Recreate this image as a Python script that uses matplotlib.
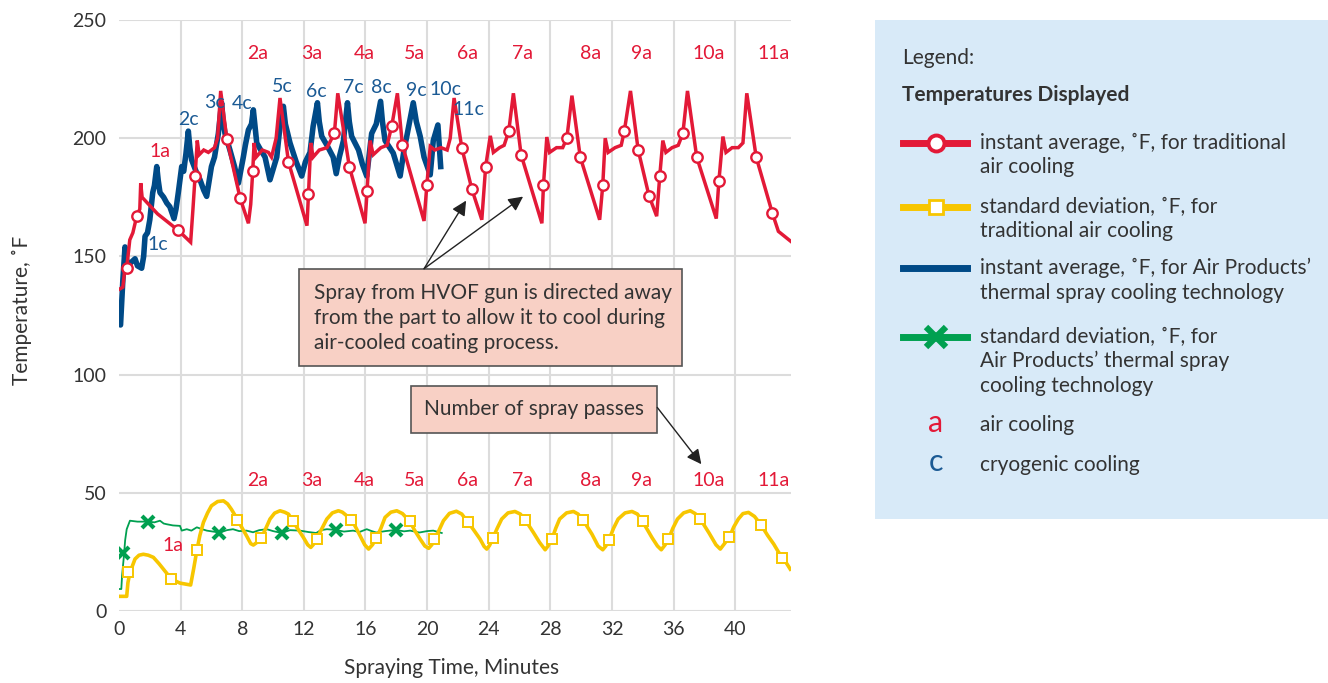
import matplotlib
matplotlib.use("Agg")
import matplotlib.pyplot as plt
from matplotlib.patches import Rectangle

plt.rcParams['font.family'] = ['Lato', 'DejaVu Sans']

# ---------------- data ----------------
red_t = [0.0, 0.25, 0.35, 0.5, 0.7, 0.9, 1.15, 1.35, 1.41, 1.5, 2.5, 3.85, 4.65, 4.8, 4.94, 5.08, 5.2, 5.5, 5.8, 6.2,
         6.4, 6.6, 7.0, 7.86, 8.4, 8.55, 8.68, 8.77, 8.9, 9.3, 9.7, 9.9, 10.2, 10.45, 11.0, 12.2, 12.3, 12.45, 12.6,
         13.0, 13.5, 13.98, 14.2, 14.95, 15.97, 16.1, 16.3, 16.5, 17.0, 17.4, 17.7, 18.07, 18.4, 19.8, 19.98, 20.2,
         20.5, 20.9, 21.3, 21.5, 21.75, 22.25, 22.9, 23.55, 23.8, 24.1, 24.3, 24.7, 25.0, 25.3, 25.6, 26.1, 27.45,
         27.55, 27.77, 27.95, 28.4, 28.8, 29.07, 29.4, 29.94, 31.2, 31.4, 31.56, 31.75, 32.2, 32.6, 32.8, 33.2, 33.7,
         34.4, 34.9, 35.1, 35.3, 35.5, 35.9, 36.3, 36.6, 36.9, 37.5, 38.77, 38.94, 39.2, 39.4, 39.8, 40.2, 40.5,
         40.75, 41.36, 42.4, 42.8, 43.6]
red_v = [136, 137, 143, 145, 157, 160, 167, 170, 181, 175, 168, 161, 156, 170, 184, 199, 193, 195, 194, 196,
         200, 220, 199.6, 174.7, 164, 172, 186, 198, 192, 195, 194, 192, 200, 217, 190, 163, 176.5, 198, 192,
         195, 196, 202, 219, 188, 164, 177.5, 199, 193, 196, 197, 205, 219, 197, 165, 180, 196.5,
         195, 196, 195, 200, 217, 196, 178.5, 165.5, 188, 201, 194, 196, 197, 203, 219, 193, 164,
         180, 200.5, 194, 196, 196, 200, 218, 192, 165.5, 180, 200, 194, 196, 197, 203, 220, 195,
         175.7, 167, 184, 199, 194, 196, 197, 202, 220, 192, 166, 182, 200.7, 194, 196, 196, 198,
         219, 192, 168.5, 160.6, 156.4]
red_mark_t = [0.5, 1.15, 3.85, 4.94, 7.0, 7.86, 8.68, 11.0, 12.3, 13.98, 14.95, 16.1, 17.7, 18.4, 19.98, 22.25, 22.9,
              23.8, 25.3, 26.1, 27.55, 29.07, 29.94, 31.4, 32.8, 33.7, 34.4, 35.1, 36.6, 37.5, 38.94, 41.36, 42.4]
red_mark_v = [145, 167, 161, 184, 199.6, 174.7, 186, 190, 176.5, 202, 188, 177.5, 205, 197, 180, 196, 178.5,
              188, 203, 193, 180, 200, 192, 180, 203, 195, 175.7, 184, 202, 192, 182, 192, 168.5]

blue_t = [0.0, 0.1, 0.25, 0.39, 0.5, 0.71, 1.04, 1.2, 1.47, 1.6, 1.69, 1.85, 2.0, 2.19, 2.3, 2.45, 2.55, 2.66, 2.9,
          3.1, 3.3, 3.57, 3.7, 3.85, 4.07, 4.2, 4.35, 4.5, 4.6, 4.71, 5.0, 5.26, 5.5, 5.69, 6.0, 6.2, 6.45, 6.66,
          6.75, 6.88, 7.2, 7.5, 7.75, 8.07, 8.2, 8.4, 8.6, 8.72, 8.94, 9.2, 9.48, 9.8, 10.24, 10.45, 10.67, 10.8,
          11.1, 11.5, 11.86, 12.1, 12.4, 12.6, 12.88, 13.0, 13.16, 13.5, 13.9, 14.1, 14.3, 14.57, 14.83, 14.95,
          15.1, 15.55, 15.8, 16.08, 16.4, 16.7, 16.98, 17.1, 17.27, 17.8, 18.25, 18.5, 18.68, 19.1, 19.3, 19.55,
          19.8, 20.2, 20.4, 20.7, 20.88]
blue_v = [122, 121, 140, 154, 148, 147, 149, 146, 145, 150, 158.5, 160, 165.5, 177, 180, 188, 182, 177, 175,
          172.6, 171, 166, 170, 177, 188, 186, 193.7, 203, 196, 190.9, 186, 182.4, 178, 175.4, 188, 192, 202, 215,
          208, 202, 195, 188, 181, 192, 197, 203.5, 206, 212, 198, 195, 192, 182.4, 192, 205, 213.5, 206,
          198, 190, 184, 190, 194, 205, 215, 207, 200.8, 197, 192, 185, 192, 199, 215, 207,
          200.8, 195, 189, 184, 202, 206, 215.6, 207, 199, 193.7, 184, 195, 200.8, 215, 207, 200.8,
          192, 184.5, 199, 205.6, 188]

yel_t = [0.0, 0.5, 0.58, 0.71, 1.04, 1.3, 1.58, 1.9, 2.23, 2.6, 2.88, 3.4, 3.96, 4.65, 4.85, 5.05, 5.25, 5.48, 5.75,
         6.0, 6.4, 6.78, 7.05, 7.3, 7.7, 8.0, 8.28, 8.55, 8.72, 8.95, 9.22, 9.5, 9.8, 10.1, 10.45, 10.75, 11.0,
         11.32, 11.65, 11.97, 12.25, 12.45, 12.6, 12.8, 13.1, 13.49, 13.85, 14.24, 14.5, 14.78, 15.1, 15.4, 15.65,
         15.95, 16.2, 16.45, 16.7, 17.0, 17.27, 17.65, 18.03, 18.4, 18.9, 19.2, 19.55, 19.85, 20.1, 20.3, 20.5,
         20.8, 21.06, 21.45, 21.9, 22.25, 22.65, 23.0, 23.44, 23.7, 23.87, 24.05, 24.26, 24.55, 24.84, 25.25, 25.7,
         26.05, 26.4, 26.9, 27.3, 27.66, 27.85, 28.1, 28.35, 28.6, 29.05, 29.5, 29.8, 30.15, 30.7, 31.1, 31.4,
         31.6, 31.8, 32.1, 32.4, 32.85, 33.3, 33.65, 34.0, 34.6, 34.95, 35.2, 35.45, 35.67, 35.95, 36.25, 36.65,
         37.08, 37.4, 37.73, 38.3, 38.75, 39.03, 39.3, 39.63, 39.9, 40.2, 40.5, 40.86, 41.25, 41.67, 42.1, 42.5,
         42.8, 43.1, 43.35, 43.57]
yel_v = [6.2, 6.2, 12, 16.3, 22, 23.6, 24, 23.6, 22.7, 20, 17.7, 13.5, 11.8, 11, 18, 25.5, 32, 37.5, 41.5,
         44.5, 46.3, 46.6, 45.3, 43, 38.6, 35, 31.8, 28.5, 27.9, 29, 30.7, 34.5, 38.9, 41.4, 42.4, 41.8, 41,
         37.7, 34.3, 31.1, 28, 26.9, 28, 30.1, 34, 38.9, 41.5, 42.4, 41.8, 40.3, 38.6, 35, 31.8,
         28, 26.2, 28, 30.8, 35, 39.6, 41.8, 42.4, 41.2, 37.7, 34, 30.4, 27.5, 26.5, 28, 30.3,
         34.5, 38.2, 41.3, 42.2, 41, 37.5, 34.5, 30.4, 27.3, 26.2, 27.7, 30.7, 35, 38.9, 41.5, 42.1,
         41, 38.2, 33.2, 29, 25.9, 27.5, 30.4, 35, 38.9, 41.5, 42.1, 41, 38.2, 32.5, 27.5, 25.9,
         27.5, 30, 35, 38.9, 41.5, 42.1, 41, 37.7, 31, 27.5, 25.9, 28, 30.4, 35, 38.9, 41.5,
         42.4, 41.2, 38.9, 33, 28, 26.2, 28.5, 31.4, 35.5, 38.9, 41.2, 41.7, 40, 36.5, 32, 28.3,
         25, 22.3, 20, 17.7]
yel_mark_t = [0.58, 3.38, 5.06, 7.66, 9.22, 11.3, 12.86, 15.06, 16.7, 18.9, 20.45, 22.66, 24.3, 26.36, 28.1,
              30.1, 31.8, 34.0, 35.65, 37.7, 39.6, 41.7, 43.05]
yel_mark_v = [16.5, 13.5, 25.8, 38.4, 30.8, 38, 30.4, 38.4, 30.8, 38, 30.4, 37.6, 30.8, 38.4, 30.4,
              38.4, 30, 38, 30.4, 38.9, 31.3, 36.3, 22.4]

grn_t = [0.0, 0.15, 0.2, 0.32, 0.4, 0.5, 0.71, 1.2, 1.9, 2.3, 2.66, 2.9, 3.1, 3.5, 3.96, 4.07, 4.4, 4.7, 5.05,
         5.4, 5.7, 6.1, 6.56, 7.0, 7.4, 7.8, 8.28, 8.7, 9.1, 9.59, 10.0, 10.56, 11.1, 11.75, 12.3, 12.8, 13.1,
         13.5, 14.07, 14.6, 15.2, 15.6, 16.08, 16.4, 16.7, 17.3, 17.98, 18.5, 18.9, 19.5, 20.0, 20.4, 20.95]
grn_v = [9.3, 9.3, 15, 23.4, 30, 34.6, 38.2, 37.8, 37.8, 37.5, 38.2, 37, 36.7, 36.2, 36, 34, 34.6, 34, 35.4,
         34.6, 34, 33.6, 33.2, 34.2, 34.6, 33.8, 34, 33.3, 34.2, 34.6, 33.8, 33, 34.2, 34, 33.4, 33, 34.2,
         34.6, 34.3, 33.6, 34, 33.4, 34.6, 33.8, 33.2, 33.8, 34.3, 33.7, 34, 33.2, 33.8, 34, 33]
grn_mark_t = [0.26, 1.88, 6.5, 10.6, 14.1, 18.0]
grn_mark_v = [24.5, 37.6, 33, 33, 34.2, 34.2]

pass_a_labels = ['2a', '3a', '4a', '5a', '6a', '7a', '8a', '9a', '10a', '11a']
pass_a_t = [9.0, 12.5, 15.9, 19.2, 22.6, 26.2, 30.6, 33.9, 38.3, 42.5]
pass_c_labels = ['1c', '2c', '3c', '4c', '5c', '6c', '7c', '8c', '9c', '10c', '11c']
pass_c_t = [2.53, 4.48, 6.17, 8.0, 10.58, 12.8, 15.2, 17.0, 19.3, 21.2, 22.7]
pass_c_v = [155, 207.8, 215, 214.5, 221.7, 219.6, 221.3, 221.3, 220, 220.4, 212]

x_ticks = [0, 4, 8, 12, 16, 20, 24, 28, 32, 36, 40]
y_ticks = [0, 50, 100, 150, 200, 250]

# ---------------- style ----------------
RED = '#e31937'
BLUE = '#004a87'
CBLUE = '#1b5a94'
YEL = '#f7c600'
GRN = '#00a050'
TXT = '#333333'
GRID = '#dcdcdc'
W, H = 1328, 683
FS = 15
LFS = 14

fig = plt.figure(figsize=(W / 100, H / 100), dpi=100)
ax = fig.add_axes([119 / W, (H - 611) / H, (790.7 - 119) / W, (611 - 20) / H])
ax.set_xlim(0, 43.6)
ax.set_ylim(0, 250)
for s in ax.spines.values():
    s.set_visible(False)
ax.set_xticks(x_ticks)
ax.set_yticks(y_ticks)
ax.tick_params(length=0, labelsize=14, labelcolor=TXT)
ax.tick_params(axis='y', pad=9)
ax.tick_params(axis='x', pad=7)
ax.yaxis.grid(True, color=GRID, lw=1.5)
for t in x_ticks[1:]:
    ax.axvline(t, color=GRID, lw=1.5, zorder=0)
ax.set_axisbelow(True)

# lines
ax.plot(blue_t, blue_v, color=BLUE, lw=4.0, solid_joinstyle='round', zorder=3)
ax.plot(red_t, red_v, color=RED, lw=2.5, solid_joinstyle='miter', zorder=4)
ax.plot(red_mark_t, red_mark_v, ls='none', marker='o', ms=7.5, mfc='white', mec=RED, mew=1.7, zorder=5)
ax.plot(grn_t, grn_v, color=GRN, lw=1.3, zorder=3)
ax.plot(yel_t, yel_v, color=YEL, lw=2.6, zorder=4)
ax.plot(yel_mark_t, yel_mark_v, ls='none', marker='s', ms=7.8, mfc='white', mec=YEL, mew=1.4, zorder=5)
ax.plot(grn_mark_t, grn_mark_v, ls='none', marker='x', ms=8.5, mec=GRN, mew=3.0, zorder=6)

# pass labels
for lab, t in zip(pass_a_labels, pass_a_t):
    ax.text(t, 236, lab, color=RED, fontsize=LFS, ha='center', va='center', zorder=7)
    ax.text(t, 55.3, lab, color=RED, fontsize=LFS, ha='center', va='center', zorder=7)
ax.text(2.66, 194.3, '1a', color=RED, fontsize=LFS, ha='center', va='center', zorder=7)
ax.text(3.5, 27.9, '1a', color=RED, fontsize=LFS, ha='center', va='center', zorder=7)
for lab, t, v in zip(pass_c_labels, pass_c_t, pass_c_v):
    ax.text(t, v, lab, color=CBLUE, fontsize=LFS, ha='center', va='center', zorder=7)

# annotation boxes
ax.add_patch(Rectangle((11.69, 103.5), 36.56 - 11.69, 144.8 - 103.5, facecolor='#f8d0c5',
                       edgecolor='#555555', lw=1.2, zorder=8))
for i, line in enumerate(['Spray from HVOF gun is directed away',
                          'from the part to allow it to cool during',
                          'air-cooled coating process.']):
    ax.text(12.66, 134.5 - i * 10.6, line, fontsize=FS, color=TXT, ha='left', va='center', zorder=9)
for tgt in [(22.53, 173.6), (26.23, 175.3)]:
    ax.annotate('', xy=tgt, xytext=(19.8, 144.8),
                arrowprops=dict(arrowstyle='-|>', color='#222222', lw=1.0, mutation_scale=22,
                                shrinkA=0, shrinkB=0), zorder=9)

ax.add_patch(Rectangle((18.96, 75.2), 34.94 - 18.96, 95.0 - 75.2, facecolor='#f8d0c5',
                       edgecolor='#555555', lw=1.2, zorder=8))
ax.text(19.8, 85.3, 'Number of spray passes', fontsize=FS, color=TXT, ha='left', va='center', zorder=9)
ax.annotate('', xy=(37.8, 62.1), xytext=(34.94, 86.1),
            arrowprops=dict(arrowstyle='-|>', color='#222222', lw=1.0, mutation_scale=22,
                            shrinkA=0, shrinkB=0), zorder=9)

# axis labels
fig.text(22 / W, 1 - 310 / H, 'Temperature, ˚F', rotation=90, ha='center', va='center',
         fontsize=FS, color=TXT)
fig.text(452 / W, 1 - 668 / H, 'Spraying Time, Minutes', ha='center', va='center',
         fontsize=FS, color=TXT)

# ---------------- legend panel ----------------
lg = fig.add_axes([875 / W, (H - 519) / H, (W - 875) / W, (519 - 20) / H])
lg.set_xlim(875, W)
lg.set_ylim(519, 20)
lg.set_facecolor('#d8eaf8')
lg.set_xticks([])
lg.set_yticks([])
for s in lg.spines.values():
    s.set_visible(False)

lg.text(902, 58, 'Legend:', fontsize=FS, color=TXT, va='center', ha='left')
lg.text(902, 95, 'Temperatures Displayed', fontsize=FS, color=TXT, va='center', ha='left', fontweight='bold')

lx = [903, 967]
lg.plot(lx, [142.7, 142.7], color=RED, lw=5)
lg.plot([935.7], [142.7], marker='o', ms=11.5, mfc='white', mec=RED, mew=2.8)
lg.plot(lx, [206.7, 206.7], color=YEL, lw=5)
lg.plot([935.7], [206.7], marker='s', ms=10.5, mfc='white', mec=YEL, mew=2.0)
lg.plot(lx, [268, 268], color=BLUE, lw=5)
lg.plot(lx, [336.7, 336.7], color=GRN, lw=5)
lg.plot([935.7], [336.7], marker='x', ms=14, mec=GRN, mew=4.5)
lg.text(935.7, 423, 'a', fontsize=22, color=RED, ha='center', va='center')
lg.text(935.7, 462, 'c', fontsize=22, color=CBLUE, ha='center', va='center')

entries = [
    (142.7, ['instant average, ˚F, for traditional', 'air cooling']),
    (206.7, ['standard deviation, ˚F, for', 'traditional air cooling']),
    (268.0, ['instant average, ˚F, for Air Products’', 'thermal spray cooling technology']),
    (336.7, ['standard deviation, ˚F, for', 'Air Products’ thermal spray', 'cooling technology']),
    (425.0, ['air cooling']),
    (465.0, ['cryogenic cooling']),
]
for y0, lines in entries:
    for i, line in enumerate(lines):
        lg.text(980, y0 + i * 24.5, line, fontsize=FS, color=TXT, va='center', ha='left')

fig.savefig('out.png', dpi=100)
